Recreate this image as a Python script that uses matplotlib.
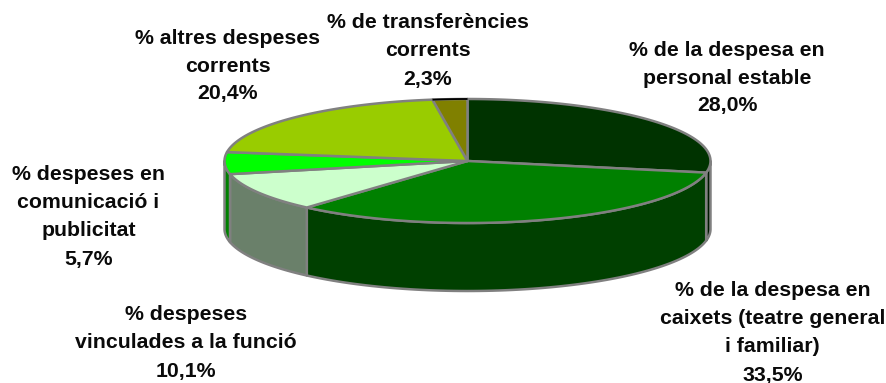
#!/usr/bin/env python3
"""3D-look pie chart of the expense shares, drawn as flat polygons."""
import numpy as np
import matplotlib
matplotlib.use("Agg")
import matplotlib.pyplot as plt
from matplotlib.patches import Polygon

labels = [
    "% de la despesa en\npersonal estable\n28,0%",
    "% de la despesa en\ncaixets (teatre general\ni familiar)\n33,5%",
    "% despeses\nvinculades a la funció\n10,1%",
    "% despeses en\ncomunicació i\npublicitat\n5,7%",
    "% altres despeses\ncorrents\n20,4%",
    "% de transferències\ncorrents\n2,3%",
]
values = [28.0, 33.5, 10.1, 5.7, 20.4, 2.3]
top_colors = ["#003300", "#008000", "#CCFFCC", "#00FF00", "#99CC00", "#808000"]
side_colors = ["#001A00", "#004000", "#6A806A", "#008000", "#4D6600", "#404000"]
label_pos = [(727, 78), (772.5, 333), (186, 343), (88.5, 217), (227.5, 66), (427.5, 51)]

CX, CY = 467.5, 161
RX, RY = 243, 62
DEPTH = 68
EDGE = "#808080"


def rim(a0, a1, dy=0):
    t = np.radians(np.linspace(a0, a1, 80))
    return np.column_stack([CX + RX * np.cos(t), CY + dy - RY * np.sin(t)])


fig = plt.figure(figsize=(8.87, 3.83), dpi=100)
ax = fig.add_axes([0, 0, 1, 1])
ax.set_xlim(0, 887)
ax.set_ylim(383, 0)
ax.axis("off")

# slice boundaries, clockwise from 12 o'clock
fracs = np.array(values) / sum(values)
ends = 90 - np.cumsum(fracs) * 360
starts = np.concatenate([[90], ends[:-1]])

# side wall: only the front half of the rim shows
for s, e, col in zip(starts, ends, side_colors):
    a0, a1 = min(s, 0), max(e, -180)
    if a0 <= a1:
        continue
    pts = np.vstack([rim(a0, a1), rim(a1, a0, DEPTH)])
    ax.add_patch(Polygon(pts, closed=True, fc=col, ec=EDGE, lw=1.8, joinstyle="round"))

# top face
for s, e, col in zip(starts, ends, top_colors):
    pts = np.vstack([[CX, CY], rim(s, e)])
    ax.add_patch(Polygon(pts, closed=True, fc=col, ec=EDGE, lw=1.8, joinstyle="round"))

# the last slice has a black back rim
back = rim(starts[-1], ends[-1])
ax.plot(back[:, 0], back[:, 1], color="black", lw=1.3, solid_capstyle="butt")

for txt, (x, y) in zip(labels, label_pos):
    ax.text(x, y, txt, ha="center", va="center", fontsize=15.3, fontweight="bold",
            family="Liberation Sans", color="#0A0A0A", linespacing=1.6)

fig.savefig("out.png", dpi=100)
